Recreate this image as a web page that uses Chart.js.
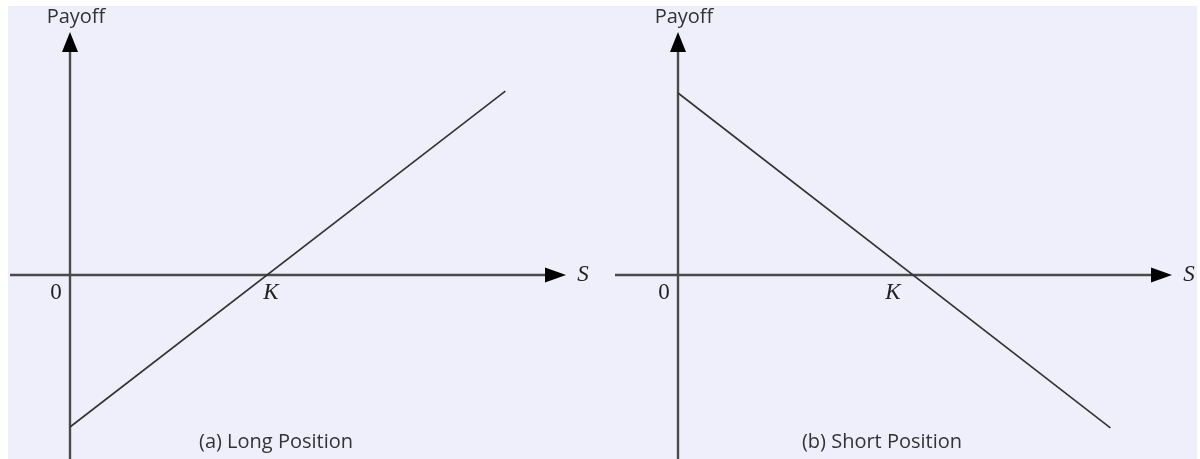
<!DOCTYPE html>
<html>
<head>
<meta charset="utf-8">
<script src="https://cdn.jsdelivr.net/npm/chart.js@4.4.1/dist/chart.umd.min.js"></script>
<style>
  html, body { margin: 0; padding: 0; background: #ffffff; }
  #bg { position: absolute; left: 8px; top: 6px; width: 1189px; height: 453px; background: #EFEFFB; }
  .panel { position: absolute; top: 0; width: 600px; height: 459px; }
  #p1 { left: 0; }
  #p2 { left: 600px; }
</style>
</head>
<body>
<div id="bg"></div>
<div class="panel" id="p1"><canvas id="c1" width="600" height="459"></canvas></div>
<div class="panel" id="p2"><canvas id="c2" width="600" height="459"></canvas></div>
<script>
// ---- data ----
const strikeK = 100;
const longS = [0, 221];
const longPayoff = [-100, 121];
const shortS = [0, 184];
const shortPayoff = [100, -84];
const originLabel = '0';
const strikeLabel = 'K';
const xAxisLabel = 'S';
const yAxisLabel = 'Payoff';
const captionLong = '(a) Long Position';
const captionShort = '(b) Short Position';

function toPoints(xs, ys) { return xs.map((x, i) => ({ x: x, y: ys[i] })); }

const axesPlugin = {
  id: 'payoffAxes',
  beforeDatasetsDraw(chart, args, opts) {
    const ctx = chart.ctx;
    const xs = chart.scales.x, ys = chart.scales.y;
    const ox = xs.getPixelForValue(0);
    const oy = ys.getPixelForValue(0);
    const kx = xs.getPixelForValue(strikeK);
    ctx.save();
    ctx.strokeStyle = '#4a4a4a';
    ctx.fillStyle = '#000000';
    ctx.lineWidth = 2.4;
    // horizontal axis
    ctx.beginPath();
    ctx.moveTo(opts.xStart, oy);
    ctx.lineTo(opts.xTip - 18, oy);
    ctx.stroke();
    ctx.beginPath();
    ctx.moveTo(opts.xTip, oy);
    ctx.lineTo(opts.xTip - 21, oy - 7.5);
    ctx.lineTo(opts.xTip - 21, oy + 7.5);
    ctx.closePath();
    ctx.fill();
    // vertical axis
    ctx.beginPath();
    ctx.moveTo(ox, chart.height);
    ctx.lineTo(ox, opts.yTip + 16);
    ctx.stroke();
    ctx.beginPath();
    ctx.moveTo(ox, opts.yTip);
    ctx.lineTo(ox - 8, opts.yTip + 20);
    ctx.lineTo(ox + 8, opts.yTip + 20);
    ctx.closePath();
    ctx.fill();
    // labels
    ctx.textAlign = 'center';
    ctx.textBaseline = 'middle';
    ctx.fillStyle = '#222222';
    ctx.font = '23px "Liberation Serif", "DejaVu Serif", serif';
    ctx.fillText(originLabel, ox - 14, oy + 18);
    ctx.font = 'italic 23px "Liberation Serif", "DejaVu Serif", serif';
    ctx.fillText(strikeLabel, kx + opts.kOffset, oy + 18);
    ctx.fillText(xAxisLabel, opts.xTip + 17, oy);
    ctx.fillStyle = '#333333';
    ctx.font = '20px "Open Sans", "Noto Sans", sans-serif';
    ctx.fillText(yAxisLabel, ox + 6, 17);
    ctx.fillText(opts.caption, opts.captionX, 442);
    ctx.restore();
  }
};

function makeChart(id, xs, ysData, xmin, xmax, ymin, ymax, plugOpts) {
  return new Chart(document.getElementById(id), {
    type: 'scatter',
    data: {
      datasets: [{
        data: toPoints(xs, ysData),
        showLine: true,
        borderColor: '#333333',
        borderWidth: 1.6,
        pointRadius: 0,
        fill: false
      }]
    },
    options: {
      responsive: false,
      animation: false,
      devicePixelRatio: 1,
      layout: { padding: 0 },
      plugins: {
        legend: { display: false },
        tooltip: { enabled: false },
        title: { display: false },
        payoffAxes: plugOpts
      },
      scales: {
        x: { type: 'linear', min: xmin, max: xmax, display: false },
        y: { type: 'linear', min: ymin, max: ymax, display: false }
      }
    },
    plugins: [axesPlugin]
  });
}

// Left: origin at (70,275), 1.97 px/unit x, 1.52 px/unit y
makeChart('c1', longS, longPayoff,
  -70 / 1.97, (600 - 70) / 1.97,
  -(459 - 275) / 1.52, 275 / 1.52,
  { xStart: 10, xTip: 566, yTip: 32, kOffset: 4, caption: captionLong, captionX: 276 });

// Right: origin at local (78,275), 2.35 px/unit x, 1.82 px/unit y
makeChart('c2', shortS, shortPayoff,
  -78 / 2.35, (600 - 78) / 2.35,
  -(459 - 275) / 1.82, 275 / 1.82,
  { xStart: 15, xTip: 572, yTip: 32, kOffset: -20, caption: captionShort, captionX: 282 });
</script>
</body>
</html>
